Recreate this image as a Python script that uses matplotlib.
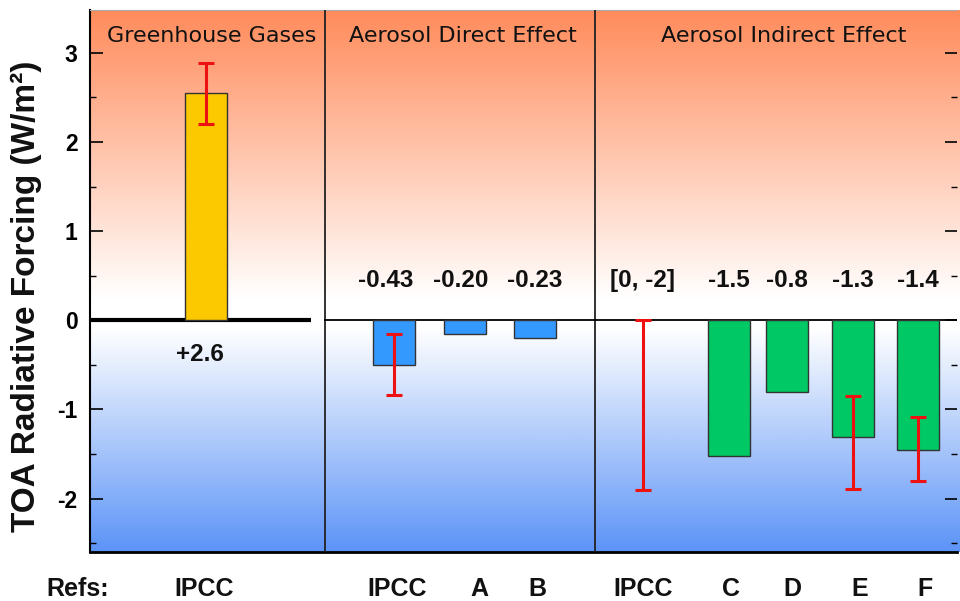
import numpy as np
import matplotlib
matplotlib.use("Agg")
import matplotlib.pyplot as plt
from matplotlib.colors import LinearSegmentedColormap

plt.rcParams["axes.unicode_minus"] = False

# --- data ---
panel_titles = ["Greenhouse Gases", "Aerosol Direct Effect", "Aerosol Indirect Effect"]

ghg_value = 2.55
ghg_err = (2.20, 2.88)
ghg_label = "+2.6"

direct_refs = ["IPCC", "A", "B"]
direct_values = [-0.50, -0.15, -0.20]
direct_labels = ["-0.43", "-0.20", "-0.23"]
direct_err = {"IPCC": (-0.15, -0.84)}

indirect_refs = ["IPCC", "C", "D", "E", "F"]
indirect_values = [None, -1.52, -0.80, -1.31, -1.46]
indirect_labels = ["[0, -2]", "-1.5", "-0.8", "-1.3", "-1.4"]
indirect_err = {"IPCC": (0.0, -1.91), "E": (-0.85, -1.89), "F": (-1.09, -1.80)}

# --- layout (x axis runs in pixel-like units) ---
ghg_x = 206
direct_x = [394, 465, 535]
indirect_x = [643, 729, 787, 853, 918]
ref_label_x = {"ghg": 204, "direct": [397, 479, 537], "indirect": [643, 731, 792, 860, 925]}
dividers = [325, 595]
title_x = [212, 463, 784]
bar_w = 42

fig = plt.figure(figsize=(9.6, 6.01), dpi=100)
ax = fig.add_axes([90 / 960, (601 - 552) / 601, 867 / 960, 542 / 601])
ax.set_xlim(90, 957)
ax.set_ylim(-2.60, 3.48)

# background gradient
cmap = LinearSegmentedColormap.from_list(
    "bg", [(0.0, "#5d94f7"), (0.40, "#ffffff"), (0.45, "#ffffff"), (1.0, "#ff8c5c")])
ys = np.linspace(-2.60, 3.48, 400)
vals = np.interp(ys, [-2.60, -0.1, 0.25, 3.48], [0.0, 0.40, 0.45, 1.0])
ax.imshow(vals[:, None], cmap=cmap, vmin=0, vmax=1, origin="lower", aspect="auto",
          extent=(90, 960, -2.60, 3.48), clip_on=False, zorder=0)

hdr = dict(fontsize=16, family="DejaVu Sans", ha="center", va="center", color="#111111")
for t, x in zip(panel_titles, title_x):
    ax.text(x, 3.19, t, **hdr)

for d in dividers:
    ax.axvline(d, color="#222222", lw=1.3, zorder=3)

# zero lines
ax.plot([90, 311], [0, 0], color="black", lw=3, zorder=4, solid_capstyle="butt")
ax.plot([325, 957], [0, 0], color="black", lw=1.3, zorder=4)

eb = dict(fmt="none", ecolor="#ee1111", elinewidth=2.2, capsize=6, capthick=2.2, zorder=6)
val = dict(fontsize=17.5, family="Liberation Sans", fontweight="bold", ha="center", va="center",
           color="#111111")
ref = dict(fontsize=18, family="Liberation Sans", fontweight="bold", ha="center", va="center",
           color="#111111", clip_on=False)

# greenhouse gases
ax.bar(ghg_x, ghg_value, width=bar_w, color="#fcc800", edgecolor="#333333", lw=1, zorder=5)
lo, hi = ghg_err
ax.errorbar(ghg_x, (lo + hi) / 2, yerr=(hi - lo) / 2, **eb)
ax.text(ghg_x - 6, -0.39, ghg_label, **val)
ax.text(ref_label_x["ghg"], -3.01, "IPCC", **ref)

# aerosol direct
ax.bar(direct_x, direct_values, width=bar_w, color="#3399ff", edgecolor="#333333", lw=1, zorder=5)
for i, r in enumerate(direct_refs):
    if r in direct_err:
        lo, hi = direct_err[r]
        ax.errorbar(direct_x[i], (lo + hi) / 2, yerr=abs(hi - lo) / 2, **eb)
    ax.text(direct_x[i] - 8 + 4 * i, 0.45, direct_labels[i], **val)
    ax.text(ref_label_x["direct"][i], -3.01, r, **ref)

# aerosol indirect
for i, r in enumerate(indirect_refs):
    v = indirect_values[i]
    if v is not None:
        ax.bar(indirect_x[i], v, width=bar_w, color="#00c864", edgecolor="#333333", lw=1, zorder=5)
    if r in indirect_err:
        lo, hi = indirect_err[r]
        ax.errorbar(indirect_x[i], (lo + hi) / 2, yerr=abs(hi - lo) / 2, **eb)
    ax.text(indirect_x[i], 0.45, indirect_labels[i], **val)
    ax.text(ref_label_x["indirect"][i], -3.01, r, **ref)

ax.text(78, -3.01, "Refs:", **ref)

# axes styling
ax.set_xticks([])
ax.set_yticks([-2, -1, 0, 1, 2, 3])
ax.set_yticks(np.arange(-2.5, 3.5, 0.5), minor=True)
ax.tick_params(axis="y", which="both", direction="in", right=True, left=True)
ax.tick_params(axis="y", which="major", length=9, width=1.2, pad=9, labelsize=16.5)
ax.tick_params(axis="y", which="minor", length=4.5, width=1.0)
for lab in ax.get_yticklabels():
    lab.set_fontweight("bold")
    lab.set_family("Liberation Sans")
ax.spines["right"].set_visible(False)
ax.spines["top"].set_color("#aaaaaa")
ax.spines["left"].set_linewidth(1.5)
ax.spines["bottom"].set_linewidth(2)

# y label placed by hand so it sits centred at the left edge
fig.text(26 / 960, 1 - 296 / 601, "TOA Radiative Forcing (W/m²)", rotation=90,
         fontsize=24, fontweight="bold", family="Liberation Sans", ha="center", va="center",
         color="#111111")

fig.savefig("out.png", dpi=100)
